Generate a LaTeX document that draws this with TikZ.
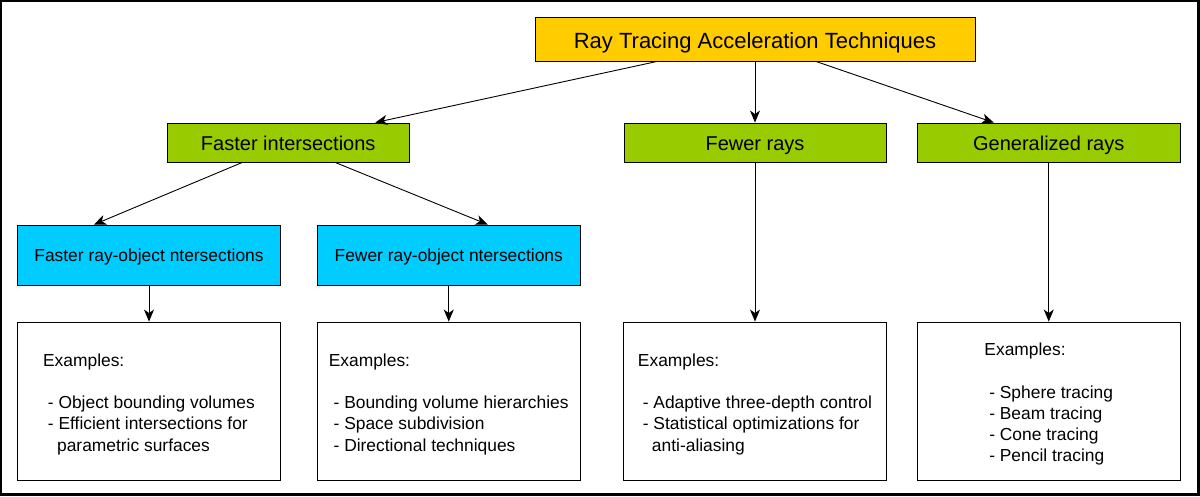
\documentclass[tikz,border=0pt]{standalone}
\usepackage{fontspec}
\setmainfont{Liberation Sans}
\usepackage{tikz}
\usetikzlibrary{arrows.meta}
\definecolor{rootclr}{HTML}{FFCC00}
\definecolor{groupclr}{HTML}{99CC00}
\definecolor{subclr}{HTML}{00CCFF}
\newcommand{\exhead}{\rule{0pt}{19pt}Examples:}
\newcommand{\exitem}{\hspace*{4.8pt}- }
\newcommand{\excont}{\hspace*{14pt}}

\begin{document}
\begin{tikzpicture}[x=1pt, y=-1pt,
    box/.style = {draw, line width=0.9pt, inner sep=0pt, minimum height=39pt},
    rootbox/.style = {box, fill=rootclr, minimum width=440pt, minimum height=44pt,
        text height=21pt, text depth=2.4pt, font=\fontsize{22}{26}\selectfont},
    groupbox/.style = {box, fill=groupclr, text height=18pt, text depth=3pt,
        font=\fontsize{20}{24}\selectfont},
    subbox/.style = {box, fill=subclr, minimum width=263pt, minimum height=60pt,
        text height=16.4pt, text depth=3pt, font=\fontsize{17.4}{21}\selectfont},
    exbox/.style = {box, fill=white, minimum width=263pt, minimum height=158pt,
        align=left, font=\fontsize{17.4}{21.2}\selectfont},
    arr/.style = {-{Stealth[length=12pt, width=10pt, inset=3.5pt]}, line width=0.9pt}]
    \useasboundingbox (0,0) rectangle (1200,496);
    %outer frame
        \draw[line width=2.5pt] (1.2,1) rectangle (1198.5,494.5);

    %top and second row
        \node[rootbox] (root) at (755,39) {Ray Tracing Acceleration Techniques};
        \node[groupbox, minimum width=242.5pt] (fast) at (288.25,142.5) {Faster intersections};
        \node[groupbox, minimum width=262pt] (fewer) at (755,142.5) {Fewer rays};
        \node[groupbox, minimum width=263.5pt] (gen) at (1048.75,142.5) {Generalized rays};

    %blue row
        \node[subbox] (blueA) at (149,255) {Faster ray-object ntersections};
        \node[subbox] (blueB) at (448.75,255) {Fewer ray-object ntersections};

    %example boxes
        \node[exbox] (exA) at (149,401) {\exhead\\[21.2pt]
            \exitem Object bounding volumes\\
            \exitem Efficient intersections for\\
            \excont parametric surfaces};
        \node[exbox] (exB) at (448.75,401) {\exhead\\[21.2pt]
            \exitem Bounding volume hierarchies\\
            \exitem Space subdivision\\
            \exitem Directional techniques};
        \node[exbox] (exC) at (755,401) {\exhead\\[21.2pt]
            \exitem Adaptive three-depth control\\
            \exitem Statistical optimizations for\\
            \excont anti-aliasing};
        \node[exbox] (exD) at (1048.75,401) {\exhead\\[21.2pt]
            \exitem Sphere tracing\\
            \exitem Beam tracing\\
            \exitem Cone tracing\\
            \exitem Pencil tracing};

    %slanted arrows
        \draw[arr] ([xshift=-98pt]root.south) -- ([xshift=87pt]fast.north);
        \draw[arr] (root.south) -- (fewer.north);
        \draw[arr] ([xshift=61pt]root.south) -- ([xshift=-55pt]gen.north);
        \draw[arr] ([xshift=-46pt]fast.south) -- ([xshift=-55pt]blueA.north);
        \draw[arr] ([xshift=47pt]fast.south) -- ([xshift=39pt]blueB.north);

    %straight down to the examples
        \foreach \a/\b in {blueA/exA, blueB/exB, fewer/exC, gen/exD} {
            \draw[arr] (\a.south) -- (\b.north);
        }
\end{tikzpicture}
\end{document}
